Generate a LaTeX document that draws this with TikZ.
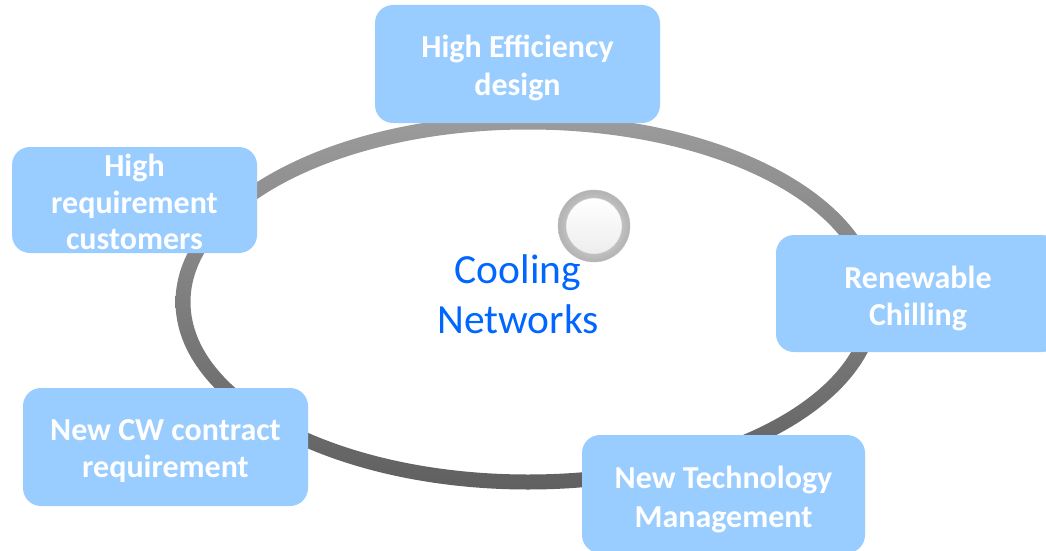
\documentclass[tikz,border=0pt]{standalone}
\usepackage{fontspec}
\setmainfont{Carlito}
\definecolor{boxblue}{HTML}{99CCFF}
\definecolor{coolblue}{HTML}{0066FF}
\definecolor{bandtop}{HTML}{9C9C9C}
\definecolor{bandbot}{HTML}{606060}
\tikzset{
  topic/.style={rectangle, rounded corners=18pt, fill=boxblue, inner sep=0pt},
  lbl/.style={text=white, inner sep=0pt, anchor=base, font=\fontsize{32}{38.5}\selectfont\bfseries},
  centre/.style={text=coolblue, font=\fontsize{41.5}{49}\selectfont, inner sep=0pt, anchor=base},
  ring/.style={top color=bandtop, bottom color=bandbot, even odd rule}
}
\begin{document}
\begin{tikzpicture}[x=1pt,y=-1pt]
\useasboundingbox (0,0) rectangle (1046,551);
\clip (0,0) rectangle (1046,551);
\fill[white] (0,0) rectangle (1046,551);
% ring
\coordinate (ec) at (528,302);
\shade[ring] (ec) ellipse [x radius=352.5pt, y radius=187.5pt]
             (ec) ellipse [x radius=337.5pt, y radius=172.5pt];
% topic boxes
\node[topic, minimum width=285pt, minimum height=118pt] (eff) at (517.5,64) {};
\node[topic, minimum width=245pt, minimum height=106pt] (cust) at (134.5,200) {};
\node[topic, minimum width=284pt, minimum height=117pt] (renew) at (918,293.5) {};
\node[topic, minimum width=285pt, minimum height=118pt] (cw) at (165.5,447) {};
\node[topic, minimum width=283pt, minimum height=118pt] (tech) at (723.5,494) {};
% box texts, placed by baseline
\node[lbl] (eff1) at ([yshift=7pt]eff.center) {High Efficiency};
\node[lbl] (eff2) at ([yshift=-31pt]eff.center) {design};
\node[lbl] (cust1) at ([yshift=24pt]cust.center) {High};
\node[lbl] (cust2) at ([yshift=-13pt]cust.center) {requirement};
\node[lbl] (cust3) at ([yshift=-49pt]cust.center) {customers};
\node[lbl] (renew1) at ([yshift=5pt]renew.center) {Renewable};
\node[lbl] (renew2) at ([yshift=-32pt]renew.center) {Chilling};
\node[lbl] (cw1) at ([yshift=7pt]cw.center) {New CW contract};
\node[lbl] (cw2) at ([yshift=-30pt]cw.center) {requirement};
\node[lbl] (tech1) at ([yshift=6pt]tech.center) {New Technology};
\node[lbl] (tech2) at ([yshift=-33pt]tech.center) {Management};
% knob
\node[circle, minimum size=72pt, inner sep=0pt, inner color=gray!15, outer color=gray!60, draw=gray!50] (knob) at (594,226) {};
\node[circle, minimum size=56pt, inner sep=0pt, top color=white, bottom color=gray!14, draw=gray!40] (knobface) at (knob.center) {};
% centre text
\node[centre] (cool1) at (518,283) {Cooling};
\node[centre] (cool2) at (518,333) {Networks};
\end{tikzpicture}
\end{document}
